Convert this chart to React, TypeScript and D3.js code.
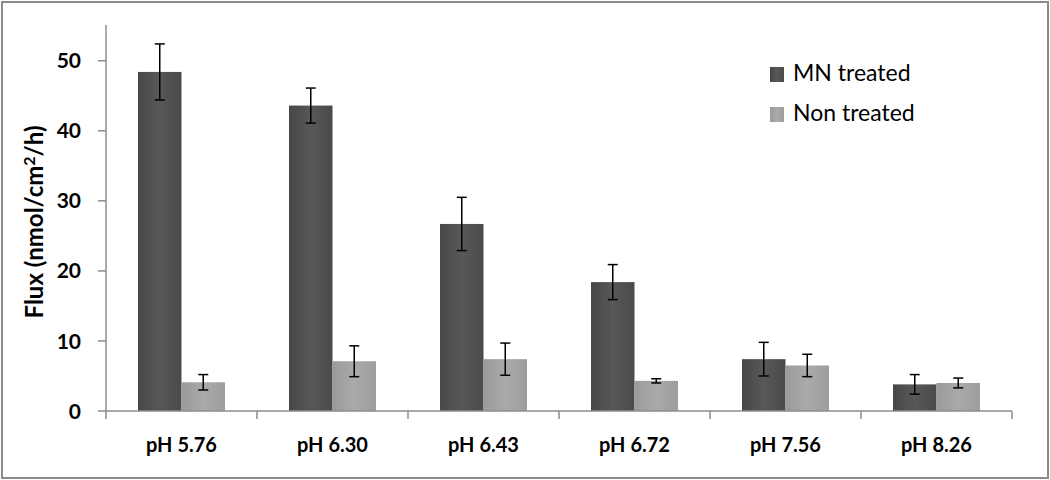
import { useMemo } from 'react';
import * as d3 from 'd3';

// --- Data ---
const categories = ['pH 5.76', 'pH 6.30', 'pH 6.43', 'pH 6.72', 'pH 7.56', 'pH 8.26'];
const seriesNames = ['MN treated', 'Non treated'];
const mnTreated = [48.4, 43.6, 26.7, 18.4, 7.4, 3.8];
const mnTreatedErr = [4.0, 2.5, 3.8, 2.5, 2.4, 1.4];
const nonTreated = [4.1, 7.1, 7.4, 4.3, 6.5, 4.0];
const nonTreatedErr = [1.1, 2.2, 2.3, 0.3, 1.6, 0.7];
const yTicks = [0, 10, 20, 30, 40, 50];

const W = 1050;
const H = 480;
const margin = { left: 106, right: 38, top: 25, bottom: 69 };
const FONT = 'Lato, "Open Sans", sans-serif';

const App = () => {
    const plotW = W - margin.left - margin.right;
    const plotH = H - margin.top - margin.bottom;

    const { x, x1, y } = useMemo(() => {
        const x = d3.scaleBand().domain(categories).range([0, plotW]).paddingInner(0).paddingOuter(0);
        const x1 = d3.scaleBand().domain(seriesNames).range([32, x.bandwidth() - 32]).padding(0);
        const y = d3.scaleLinear().domain([0, 55.1]).range([plotH, 0]);
        return { x, x1, y };
    }, [plotW, plotH]);

    const series = [
        { name: seriesNames[0], values: mnTreated, errs: mnTreatedErr, fill: 'url(#gDark)' },
        { name: seriesNames[1], values: nonTreated, errs: nonTreatedErr, fill: 'url(#gLight)' },
    ];

    const axisColor = '#8c8c8c';

    return (
        <div style={{ position: 'absolute', left: 0, top: 0 }}>
            <svg width={W} height={H} style={{ display: 'block', background: '#fff' }}>
                <defs>
                    <linearGradient id="gDark" x1="0" x2="1" y1="0" y2="0">
                        <stop offset="0" stopColor="#474747" />
                        <stop offset="0.5" stopColor="#585858" />
                        <stop offset="1" stopColor="#4a4a4a" />
                    </linearGradient>
                    <linearGradient id="gLight" x1="0" x2="1" y1="0" y2="0">
                        <stop offset="0" stopColor="#9a9a9a" />
                        <stop offset="0.5" stopColor="#aaaaaa" />
                        <stop offset="1" stopColor="#9d9d9d" />
                    </linearGradient>
                </defs>
                <rect x={2} y={2} width={W - 4} height={H - 4} fill="#fff" stroke="#8a8a8a" strokeWidth={2} />

                <g transform={`translate(${margin.left},${margin.top})`}>
                    {/* bars */}
                    {categories.map((c, i) => (
                        <g key={c} transform={`translate(${x(c)},0)`}>
                            {series.map(s => {
                                const bx = x1(s.name)!;
                                const bw = x1.bandwidth();
                                const v = s.values[i];
                                const e = s.errs[i];
                                const cx = bx + bw / 2;
                                return (
                                    <g key={s.name}>
                                        <rect x={bx} y={y(v)} width={bw} height={plotH - y(v)} fill={s.fill} />
                                        <line x1={cx} x2={cx} y1={y(v + e)} y2={y(v - e)} stroke="#000" strokeWidth={1.5} />
                                        <line x1={cx - 5} x2={cx + 5} y1={y(v + e)} y2={y(v + e)} stroke="#000" strokeWidth={1.5} />
                                        <line x1={cx - 5} x2={cx + 5} y1={y(v - e)} y2={y(v - e)} stroke="#000" strokeWidth={1.5} />
                                    </g>
                                );
                            })}
                        </g>
                    ))}

                    {/* y axis */}
                    <line x1={0} x2={0} y1={0} y2={plotH} stroke={axisColor} strokeWidth={1.5} />
                    {yTicks.map(t => (
                        <g key={t} transform={`translate(0,${y(t)})`}>
                            <line x1={-8} x2={0} stroke={axisColor} strokeWidth={1.5} />
                            <text x={-25} dy="0.36em" textAnchor="end" fontFamily={FONT} fontWeight="bold" fontSize={21} fill="#000">{t}</text>
                        </g>
                    ))}

                    {/* x axis */}
                    <line x1={0} x2={plotW} y1={plotH} y2={plotH} stroke={axisColor} strokeWidth={1.5} />
                    {[...categories.map(c => x(c)!), plotW].map((p, i) => (
                        <line key={i} x1={p} x2={p} y1={plotH} y2={plotH + 8} stroke={axisColor} strokeWidth={1.5} />
                    ))}
                    {categories.map(c => (
                        <text key={c} x={x(c)! + x.bandwidth() / 2} y={plotH + 41} textAnchor="middle" fontFamily={FONT} fontWeight="bold" fontSize={20} fill="#000">{c}</text>
                    ))}
                </g>

                {/* y title */}
                <text transform="translate(43,222) rotate(-90)" textAnchor="middle" fontFamily={FONT} fontWeight="bold" fontSize={24} fill="#000">
                    Flux (nmol/cm<tspan dy="-8" fontSize={16}>2</tspan><tspan dy="8">/h)</tspan>
                </text>

                {/* legend */}
                {series.map((s, i) => (
                    <g key={s.name} transform={`translate(770,${67 + i * 40})`}>
                        <rect width={14} height={15} fill={s.fill} />
                        <text x={23} y={14} fontFamily={FONT} fontSize={23} fill="#000">{s.name}</text>
                    </g>
                ))}
            </svg>
        </div>
    );
};

export default App;
